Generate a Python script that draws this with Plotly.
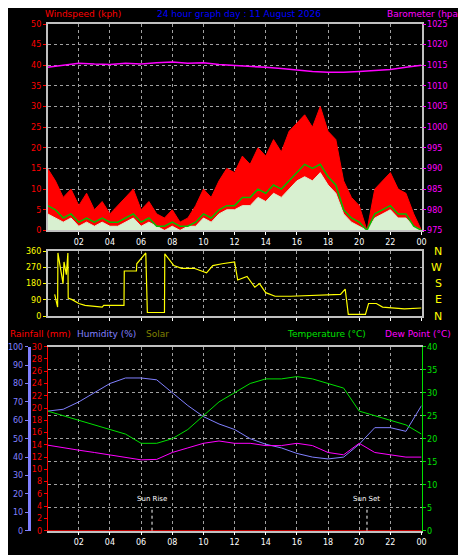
import plotly.graph_objects as go

# half-hourly wind (kph)
wind_t = [i * 0.5 for i in range(49)]
gust = [15, 12, 8, 10, 6, 9, 5, 7, 4, 6, 8, 10, 5, 7, 4, 3, 5, 2, 3, 6, 10, 8, 12, 15, 14,
        18, 16, 20, 18, 22, 19, 24, 26, 28, 25, 30, 24, 22, 12, 8, 6, 0, 10, 12, 14, 10, 9, 4, 0]
avg = [6, 5, 3, 4, 2, 3, 2, 3, 2, 2, 3, 4, 2, 3, 1, 1, 2, 1, 1, 2, 4, 3, 5, 6, 6,
       8, 8, 10, 9, 11, 10, 12, 14, 16, 15, 16, 13, 11, 5, 3, 2, 0, 4, 5, 6, 4, 4, 1, 0]
speed = [4, 3, 2, 3, 1, 2, 1, 2, 1, 1, 2, 3, 1, 2, 1, 0, 1, 0, 1, 1, 3, 2, 4, 5, 5,
         6, 6, 8, 7, 9, 8, 10, 12, 13, 12, 14, 11, 9, 4, 2, 1, 0, 3, 4, 5, 3, 3, 1, 0]

hours = list(range(25))
baro = [1014.5, 1015, 1015.5, 1015.3, 1015.2, 1015.5, 1015.3, 1015.6, 1015.8, 1015.5, 1015.6, 1015.2, 1015,
        1014.8, 1014.5, 1014.2, 1013.8, 1013.5, 1013.3, 1013.3, 1013.5, 1013.8, 1014, 1014.5, 1015]
temp = [26, 25, 24, 23, 22, 21, 19, 19, 20, 22, 25, 28, 30, 32, 33, 33, 33.5, 33, 32, 31, 26, 25, 24, 23, 21]
dew = [18.6, 18, 17.5, 17, 16.5, 16, 15.4, 15.5, 17, 18, 19, 19.5, 19, 19, 18.5, 18.5, 19, 18.5, 17, 16.5,
       19, 17, 16.5, 16, 16]
hum = [65, 66, 70, 75, 80, 83, 83, 82, 75, 68, 62, 58, 55, 50, 47, 45, 42, 40, 39, 40, 47, 56, 56, 54, 68]
rain = [0] * 25

dir_t = [0.45, 0.64, 0.66, 0.99, 1.05, 1.2, 1.3, 1.32, 1.6, 2.0, 2.4, 3.5, 3.6, 4.9, 4.92, 5.7, 5.72, 6.3, 6.4,
         7.5, 7.52, 8.1, 8.6, 9.4, 10.2, 10.6, 11.2, 12.0, 12.2, 12.8, 13.3, 13.6, 14.0, 14.6, 15.6, 18.8,
         19.1, 19.3, 20.4, 20.6, 21.1, 21.5, 22.9, 24]
dir_v = [120, 50, 350, 180, 300, 230, 350, 100, 90, 70, 60, 50, 60, 60, 250, 250, 290, 350, 20,
         20, 345, 280, 265, 265, 240, 280, 290, 300, 200, 220, 160, 180, 130, 110, 110, 120,
         150, 10, 10, 70, 70, 50, 40, 45]

sun_times = [6.7, 20.5]
sun_labels = ["Sun Rise", "Sun Set"]

tickvals = list(range(2, 25, 2))
ticktext = ["%02d" % (h % 24) for h in tickvals]
FONT = dict(family="DejaVu Sans", size=8)

fig = go.Figure()
fig.add_trace(go.Scatter(x=wind_t, y=gust, fill="tozeroy", mode="lines", line=dict(color="red", width=1),
                         fillcolor="red", xaxis="x", yaxis="y"))
fig.add_trace(go.Scatter(x=wind_t, y=speed, fill="tozeroy", mode="lines", line=dict(color="#d8f0d0", width=1),
                         fillcolor="#d8f0d0", xaxis="x", yaxis="y"))
fig.add_trace(go.Scatter(x=wind_t, y=avg, mode="lines", line=dict(color="#00c000", width=1.5), xaxis="x", yaxis="y"))
fig.add_trace(go.Scatter(x=hours, y=baro, mode="lines", line=dict(color="#ff00ff", width=1.5), xaxis="x", yaxis="y2"))
fig.add_trace(go.Scatter(x=dir_t, y=dir_v, mode="lines", line=dict(color="yellow", width=1.2),
                         xaxis="x2", yaxis="y3"))
fig.add_trace(go.Scatter(x=hours, y=rain, mode="lines", line=dict(color="red", width=1.5), xaxis="x3", yaxis="y4"))
fig.add_trace(go.Scatter(x=hours, y=hum, mode="lines", line=dict(color="#8080ff", width=1), xaxis="x3", yaxis="y5"))
fig.add_trace(go.Scatter(x=hours, y=temp, mode="lines", line=dict(color="#00e000", width=1), xaxis="x3", yaxis="y6"))
fig.add_trace(go.Scatter(x=hours, y=dew, mode="lines", line=dict(color="#ff00ff", width=1), xaxis="x3", yaxis="y6"))
for t, lab in zip(sun_times, sun_labels):
    fig.add_trace(go.Scatter(x=[t, t], y=[0, 5], mode="lines", line=dict(color="white", width=1, dash="dot"),
                             xaxis="x3", yaxis="y6"))
    fig.add_annotation(x=t, y=5.5, xref="x3", yref="y6", text=lab, showarrow=False,
                       font=dict(color="white", size=7, family="DejaVu Sans"), yanchor="bottom")

GRID = dict(showgrid=True, gridcolor="#a0a0a0", griddash="dot", gridwidth=1)
FRAME = dict(showline=True, linecolor="#c0c0c0", linewidth=1.5, mirror=True)
xdom = [0.086, 0.897]
xcommon = dict(range=[0, 24], tickvals=tickvals, ticktext=ticktext, domain=xdom, zeroline=False,
               ticks="outside", ticklen=3, tickcolor="white", **GRID, **FRAME)

def yax(color, rng, dtick, **kw):
    return dict(range=rng, dtick=dtick, tickfont=dict(color=color, **FONT), ticks="outside", ticklen=3,
                tickcolor=color, zeroline=False, **kw)

fig.update_layout(
    width=466, height=555, paper_bgcolor="black", plot_bgcolor="black", showlegend=False,
    margin=dict(l=0, r=0, t=0, b=0),
    xaxis=dict(anchor="y", tickfont=dict(color="white", **FONT), **xcommon),
    xaxis2=dict(anchor="y3", showticklabels=False, **xcommon),
    xaxis3=dict(anchor="y4", tickfont=dict(color="white", **FONT), **xcommon),
    yaxis=dict(domain=[0.6, 0.978], **yax("red", [0, 50], 5, **GRID, **FRAME)),
    yaxis2=dict(overlaying="y", side="right", showgrid=False, **yax("#ff00ff", [975, 1025], 5)),
    yaxis3=dict(domain=[0.443, 0.562], anchor="x2", **GRID, **FRAME, **yax("yellow", [0, 360], 90)),
    yaxis4=dict(domain=[0.05, 0.387], anchor="x3", showline=True, linecolor="red", showgrid=False,
                **yax("red", [0, 30], 2)),
    yaxis5=dict(overlaying="y4", anchor="free", position=0.045, showline=True, linecolor="#8080ff",
                linewidth=3, showgrid=False, **yax("#8080ff", [0, 100], 10)),
    yaxis6=dict(overlaying="y4", side="right", anchor="x3", showline=True, linecolor="#00e000",
                **GRID, **yax("#00e000", [0, 40], 5)),
)

ann = [
    (0.075, 0.996, "Windspeed (kph)", "red", "left"),
    (0.5, 0.996, "24 hour graph day : 11 August 2026", "blue", "center"),
    (0.99, 0.996, "Barometer (hpa)", "#ff00ff", "right"),
    (0.0, 0.41, "Rainfall (mm)", "red", "left"),
    (0.145, 0.41, "Humidity (%)", "#8080ff", "left"),
    (0.295, 0.41, "Solar", "#808000", "left"),
    (0.78, 0.41, "Temperature (°C)", "#00e000", "right"),
    (0.965, 0.41, "Dew Point (°C)", "#ff00ff", "right"),
]
for x, y, txt, col, xa in ann:
    fig.add_annotation(x=x, y=y, xref="paper", yref="paper", text=txt, showarrow=False, xanchor=xa,
                       yanchor="middle", font=dict(color=col, size=9, family="DejaVu Sans"))
for i, d in enumerate(["N", "W", "S", "E", "N"]):
    fig.add_annotation(x=0.945, y=0.562 - i * 0.0298, xref="paper", yref="paper", text=d, showarrow=False,
                       font=dict(color="yellow", size=11, family="DejaVu Sans"))

fig.write_html("out.html")
